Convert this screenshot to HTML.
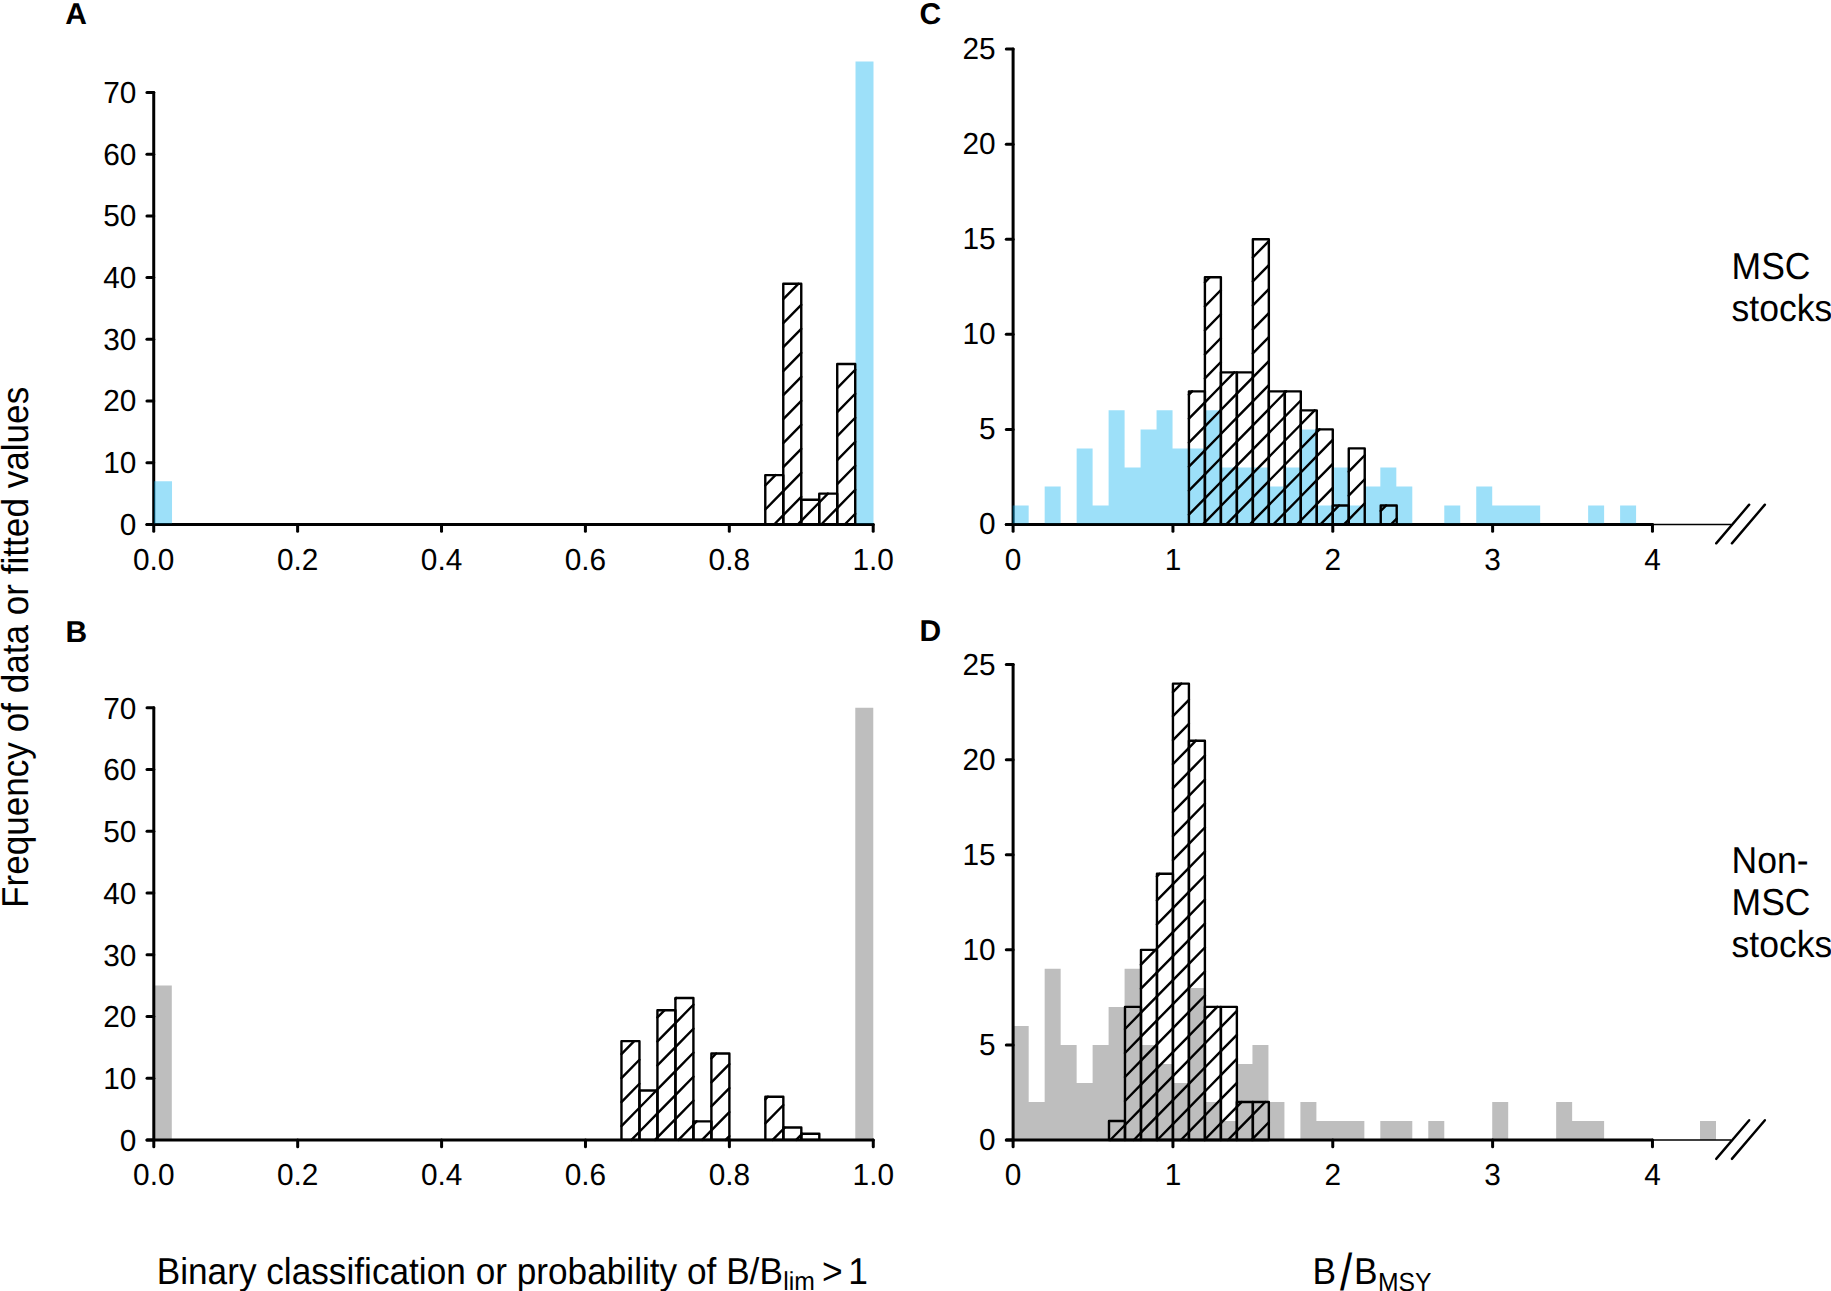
<!DOCTYPE html>
<html lang="en"><head><meta charset="utf-8"><title>Frequency of data or fitted values</title>
<style>html,body{margin:0;padding:0;background:#fff}svg{display:block}text{font-family:'Liberation Sans', Arial, Helvetica, sans-serif;fill:#000}</style>
</head><body>
<svg width="1831" height="1291" viewBox="0 0 1831 1291" text-rendering="geometricPrecision">
<rect width="1831" height="1291" fill="#fff"/>
<line x1="153.73" y1="92.46" x2="153.73" y2="524.5" stroke="#000" stroke-width="3" stroke-linecap="round"/>
<line x1="146.93" y1="524.5" x2="153.73" y2="524.5" stroke="#000" stroke-width="3" stroke-linecap="round"/>
<line x1="146.93" y1="462.78" x2="153.73" y2="462.78" stroke="#000" stroke-width="3" stroke-linecap="round"/>
<line x1="146.93" y1="401.06" x2="153.73" y2="401.06" stroke="#000" stroke-width="3" stroke-linecap="round"/>
<line x1="146.93" y1="339.34" x2="153.73" y2="339.34" stroke="#000" stroke-width="3" stroke-linecap="round"/>
<line x1="146.93" y1="277.62" x2="153.73" y2="277.62" stroke="#000" stroke-width="3" stroke-linecap="round"/>
<line x1="146.93" y1="215.9" x2="153.73" y2="215.9" stroke="#000" stroke-width="3" stroke-linecap="round"/>
<line x1="146.93" y1="154.18" x2="153.73" y2="154.18" stroke="#000" stroke-width="3" stroke-linecap="round"/>
<line x1="146.93" y1="92.46" x2="153.73" y2="92.46" stroke="#000" stroke-width="3" stroke-linecap="round"/>
<line x1="146.93" y1="524.5" x2="873.2" y2="524.5" stroke="#000" stroke-width="3" stroke-linecap="round"/>
<line x1="153.73" y1="524.5" x2="153.73" y2="531.3" stroke="#000" stroke-width="3" stroke-linecap="round"/>
<line x1="297.62" y1="524.5" x2="297.62" y2="531.3" stroke="#000" stroke-width="3" stroke-linecap="round"/>
<line x1="441.52" y1="524.5" x2="441.52" y2="531.3" stroke="#000" stroke-width="3" stroke-linecap="round"/>
<line x1="585.41" y1="524.5" x2="585.41" y2="531.3" stroke="#000" stroke-width="3" stroke-linecap="round"/>
<line x1="729.31" y1="524.5" x2="729.31" y2="531.3" stroke="#000" stroke-width="3" stroke-linecap="round"/>
<line x1="873.2" y1="524.5" x2="873.2" y2="531.3" stroke="#000" stroke-width="3" stroke-linecap="round"/>
<path d="M154.03 523.4V481.3H172.02V523.4ZM855.51 523.4V61.6H873.5V523.4Z" fill="#00aeef" fill-opacity="0.385"/>
<path d="M765.28 485.51L775.47 475.12M765.28 509.51L783.27 491.17M774.12 524.5L783.27 515.17" fill="none" stroke="#000" stroke-width="2.4" stroke-linecap="round"/>
<rect x="765.28" y="475.12" width="17.99" height="49.38" fill="none" stroke="#000" stroke-width="2.4" stroke-linejoin="round"/>
<path d="M783.27 299.17L798.34 283.79M783.27 323.17L801.25 304.82M783.27 347.17L801.25 328.82M783.27 371.17L801.25 352.82M783.27 395.17L801.25 376.82M783.27 419.17L801.25 400.82M783.27 443.17L801.25 424.82M783.27 467.17L801.25 448.82M783.27 491.17L801.25 472.82M783.27 515.17L801.25 496.82M797.65 524.5L801.25 520.82" fill="none" stroke="#000" stroke-width="2.4" stroke-linecap="round"/>
<rect x="783.27" y="283.79" width="17.99" height="240.71" fill="none" stroke="#000" stroke-width="2.4" stroke-linejoin="round"/>
<path d="M801.25 520.82L819.24 502.48" fill="none" stroke="#000" stroke-width="2.4" stroke-linecap="round"/>
<rect x="801.25" y="499.81" width="17.99" height="24.69" fill="none" stroke="#000" stroke-width="2.4" stroke-linejoin="round"/>
<path d="M819.24 502.48L827.9 493.64M821.18 524.5L837.23 508.13" fill="none" stroke="#000" stroke-width="2.4" stroke-linecap="round"/>
<rect x="819.24" y="493.64" width="17.99" height="30.86" fill="none" stroke="#000" stroke-width="2.4" stroke-linejoin="round"/>
<path d="M837.23 388.13L855.21 369.78M837.23 412.13L855.21 393.78M837.23 436.13L855.21 417.78M837.23 460.13L855.21 441.78M837.23 484.13L855.21 465.78M837.23 508.13L855.21 489.78M844.71 524.5L855.21 513.78" fill="none" stroke="#000" stroke-width="2.4" stroke-linecap="round"/>
<rect x="837.23" y="364.03" width="17.99" height="160.47" fill="none" stroke="#000" stroke-width="2.4" stroke-linejoin="round"/>
<text transform="translate(136.3 534.85) scale(0.9800 1)" font-size="30.4" text-anchor="end">0</text>
<text transform="translate(136.3 473.13) scale(0.9800 1)" font-size="30.4" text-anchor="end">10</text>
<text transform="translate(136.3 411.41) scale(0.9800 1)" font-size="30.4" text-anchor="end">20</text>
<text transform="translate(136.3 349.69) scale(0.9800 1)" font-size="30.4" text-anchor="end">30</text>
<text transform="translate(136.3 287.97) scale(0.9800 1)" font-size="30.4" text-anchor="end">40</text>
<text transform="translate(136.3 226.25) scale(0.9800 1)" font-size="30.4" text-anchor="end">50</text>
<text transform="translate(136.3 164.53) scale(0.9800 1)" font-size="30.4" text-anchor="end">60</text>
<text transform="translate(136.3 102.81) scale(0.9800 1)" font-size="30.4" text-anchor="end">70</text>
<text transform="translate(153.73 569.9) scale(0.9800 1)" font-size="30.4" text-anchor="middle">0.0</text>
<text transform="translate(297.62 569.9) scale(0.9800 1)" font-size="30.4" text-anchor="middle">0.2</text>
<text transform="translate(441.52 569.9) scale(0.9800 1)" font-size="30.4" text-anchor="middle">0.4</text>
<text transform="translate(585.41 569.9) scale(0.9800 1)" font-size="30.4" text-anchor="middle">0.6</text>
<text transform="translate(729.31 569.9) scale(0.9800 1)" font-size="30.4" text-anchor="middle">0.8</text>
<text transform="translate(873.2 569.9) scale(0.9800 1)" font-size="30.4" text-anchor="middle">1.0</text>
<text x="65.2" y="24.1" font-size="30" font-weight="bold">A</text>
<path d="M153.8 1139.9V985.6H171.79V1139.9ZM855.28 1139.9V707.86H873.27V1139.9Z" fill="#bebebe"/>
<line x1="153.8" y1="707.86" x2="153.8" y2="1139.9" stroke="#000" stroke-width="3" stroke-linecap="round"/>
<line x1="147" y1="1139.9" x2="153.8" y2="1139.9" stroke="#000" stroke-width="3" stroke-linecap="round"/>
<line x1="147" y1="1078.18" x2="153.8" y2="1078.18" stroke="#000" stroke-width="3" stroke-linecap="round"/>
<line x1="147" y1="1016.46" x2="153.8" y2="1016.46" stroke="#000" stroke-width="3" stroke-linecap="round"/>
<line x1="147" y1="954.74" x2="153.8" y2="954.74" stroke="#000" stroke-width="3" stroke-linecap="round"/>
<line x1="147" y1="893.02" x2="153.8" y2="893.02" stroke="#000" stroke-width="3" stroke-linecap="round"/>
<line x1="147" y1="831.3" x2="153.8" y2="831.3" stroke="#000" stroke-width="3" stroke-linecap="round"/>
<line x1="147" y1="769.58" x2="153.8" y2="769.58" stroke="#000" stroke-width="3" stroke-linecap="round"/>
<line x1="147" y1="707.86" x2="153.8" y2="707.86" stroke="#000" stroke-width="3" stroke-linecap="round"/>
<line x1="147" y1="1139.9" x2="873.27" y2="1139.9" stroke="#000" stroke-width="3" stroke-linecap="round"/>
<line x1="153.8" y1="1139.9" x2="153.8" y2="1146.7" stroke="#000" stroke-width="3" stroke-linecap="round"/>
<line x1="297.69" y1="1139.9" x2="297.69" y2="1146.7" stroke="#000" stroke-width="3" stroke-linecap="round"/>
<line x1="441.59" y1="1139.9" x2="441.59" y2="1146.7" stroke="#000" stroke-width="3" stroke-linecap="round"/>
<line x1="585.48" y1="1139.9" x2="585.48" y2="1146.7" stroke="#000" stroke-width="3" stroke-linecap="round"/>
<line x1="729.38" y1="1139.9" x2="729.38" y2="1146.7" stroke="#000" stroke-width="3" stroke-linecap="round"/>
<line x1="873.27" y1="1139.9" x2="873.27" y2="1146.7" stroke="#000" stroke-width="3" stroke-linecap="round"/>
<path d="M621.46 1054.12L634.17 1041.15M621.46 1078.12L639.44 1059.77M621.46 1102.12L639.44 1083.77M621.46 1126.12L639.44 1107.77M631.47 1139.9L639.44 1131.77" fill="none" stroke="#000" stroke-width="2.4" stroke-linecap="round"/>
<rect x="621.46" y="1041.15" width="17.99" height="98.75" fill="none" stroke="#000" stroke-width="2.4" stroke-linejoin="round"/>
<path d="M639.44 1107.77L656.35 1090.52M639.44 1131.77L657.43 1113.42M655 1139.9L657.43 1137.42" fill="none" stroke="#000" stroke-width="2.4" stroke-linecap="round"/>
<rect x="639.44" y="1090.52" width="17.99" height="49.38" fill="none" stroke="#000" stroke-width="2.4" stroke-linejoin="round"/>
<path d="M657.43 1017.42L664.42 1010.29M657.43 1041.42L675.42 1023.08M657.43 1065.42L675.42 1047.08M657.43 1089.42L675.42 1071.08M657.43 1113.42L675.42 1095.08M657.43 1137.42L675.42 1119.08" fill="none" stroke="#000" stroke-width="2.4" stroke-linecap="round"/>
<rect x="657.43" y="1010.29" width="17.99" height="129.61" fill="none" stroke="#000" stroke-width="2.4" stroke-linejoin="round"/>
<path d="M675.42 999.08L676.53 997.94M675.42 1023.08L693.4 1004.73M675.42 1047.08L693.4 1028.73M675.42 1071.08L693.4 1052.73M675.42 1095.08L693.4 1076.73M675.42 1119.08L693.4 1100.73M678.53 1139.9L693.4 1124.73" fill="none" stroke="#000" stroke-width="2.4" stroke-linecap="round"/>
<rect x="675.42" y="997.94" width="17.99" height="141.96" fill="none" stroke="#000" stroke-width="2.4" stroke-linejoin="round"/>
<path d="M693.4 1124.73L696.68 1121.38M702.06 1139.9L711.39 1130.38" fill="none" stroke="#000" stroke-width="2.4" stroke-linecap="round"/>
<rect x="693.4" y="1121.38" width="17.99" height="18.52" fill="none" stroke="#000" stroke-width="2.4" stroke-linejoin="round"/>
<path d="M711.39 1058.38L716.18 1053.49M711.39 1082.38L729.38 1064.04M711.39 1106.38L729.38 1088.04M711.39 1130.38L729.38 1112.04M725.59 1139.9L729.38 1136.04" fill="none" stroke="#000" stroke-width="2.4" stroke-linecap="round"/>
<rect x="711.39" y="1053.49" width="17.99" height="86.41" fill="none" stroke="#000" stroke-width="2.4" stroke-linejoin="round"/>
<path d="M765.35 1099.34L767.95 1096.7M765.35 1123.34L783.34 1105M772.65 1139.9L783.34 1129" fill="none" stroke="#000" stroke-width="2.4" stroke-linecap="round"/>
<rect x="765.35" y="1096.7" width="17.99" height="43.2" fill="none" stroke="#000" stroke-width="2.4" stroke-linejoin="round"/>
<path d="M783.34 1129L784.75 1127.56M796.18 1139.9L801.32 1134.65" fill="none" stroke="#000" stroke-width="2.4" stroke-linecap="round"/>
<rect x="783.34" y="1127.56" width="17.99" height="12.34" fill="none" stroke="#000" stroke-width="2.4" stroke-linejoin="round"/>
<path d="M801.32 1134.65L802.23 1133.73" fill="none" stroke="#000" stroke-width="2.4" stroke-linecap="round"/>
<rect x="801.32" y="1133.73" width="17.99" height="6.17" fill="none" stroke="#000" stroke-width="2.4" stroke-linejoin="round"/>
<text transform="translate(136.3 1150.8) scale(0.9800 1)" font-size="30.4" text-anchor="end">0</text>
<text transform="translate(136.3 1089.08) scale(0.9800 1)" font-size="30.4" text-anchor="end">10</text>
<text transform="translate(136.3 1027.36) scale(0.9800 1)" font-size="30.4" text-anchor="end">20</text>
<text transform="translate(136.3 965.64) scale(0.9800 1)" font-size="30.4" text-anchor="end">30</text>
<text transform="translate(136.3 903.92) scale(0.9800 1)" font-size="30.4" text-anchor="end">40</text>
<text transform="translate(136.3 842.2) scale(0.9800 1)" font-size="30.4" text-anchor="end">50</text>
<text transform="translate(136.3 780.48) scale(0.9800 1)" font-size="30.4" text-anchor="end">60</text>
<text transform="translate(136.3 718.76) scale(0.9800 1)" font-size="30.4" text-anchor="end">70</text>
<text transform="translate(153.8 1185.3) scale(0.9800 1)" font-size="30.4" text-anchor="middle">0.0</text>
<text transform="translate(297.69 1185.3) scale(0.9800 1)" font-size="30.4" text-anchor="middle">0.2</text>
<text transform="translate(441.59 1185.3) scale(0.9800 1)" font-size="30.4" text-anchor="middle">0.4</text>
<text transform="translate(585.48 1185.3) scale(0.9800 1)" font-size="30.4" text-anchor="middle">0.6</text>
<text transform="translate(729.38 1185.3) scale(0.9800 1)" font-size="30.4" text-anchor="middle">0.8</text>
<text transform="translate(873.27 1185.3) scale(0.9800 1)" font-size="30.4" text-anchor="middle">1.0</text>
<text x="65.6" y="641.6" font-size="30" font-weight="bold">B</text>
<line x1="1013.1" y1="49.08" x2="1013.1" y2="524.45" stroke="#000" stroke-width="3" stroke-linecap="round"/>
<line x1="1006.3" y1="524.45" x2="1013.1" y2="524.45" stroke="#000" stroke-width="3" stroke-linecap="round"/>
<line x1="1006.3" y1="429.38" x2="1013.1" y2="429.38" stroke="#000" stroke-width="3" stroke-linecap="round"/>
<line x1="1006.3" y1="334.3" x2="1013.1" y2="334.3" stroke="#000" stroke-width="3" stroke-linecap="round"/>
<line x1="1006.3" y1="239.23" x2="1013.1" y2="239.23" stroke="#000" stroke-width="3" stroke-linecap="round"/>
<line x1="1006.3" y1="144.15" x2="1013.1" y2="144.15" stroke="#000" stroke-width="3" stroke-linecap="round"/>
<line x1="1006.3" y1="49.08" x2="1013.1" y2="49.08" stroke="#000" stroke-width="3" stroke-linecap="round"/>
<line x1="1006.3" y1="524.45" x2="1652.46" y2="524.45" stroke="#000" stroke-width="3" stroke-linecap="round"/>
<line x1="1013.1" y1="524.45" x2="1013.1" y2="531.25" stroke="#000" stroke-width="3" stroke-linecap="round"/>
<line x1="1172.94" y1="524.45" x2="1172.94" y2="531.25" stroke="#000" stroke-width="3" stroke-linecap="round"/>
<line x1="1332.78" y1="524.45" x2="1332.78" y2="531.25" stroke="#000" stroke-width="3" stroke-linecap="round"/>
<line x1="1492.62" y1="524.45" x2="1492.62" y2="531.25" stroke="#000" stroke-width="3" stroke-linecap="round"/>
<line x1="1652.46" y1="524.45" x2="1652.46" y2="531.25" stroke="#000" stroke-width="3" stroke-linecap="round"/>
<line x1="1652.46" y1="524.45" x2="1731" y2="524.45" stroke="#000" stroke-width="1.5" stroke-linecap="butt"/>
<line x1="1716.2" y1="543.35" x2="1749.2" y2="504.65" stroke="#000" stroke-width="2.4" stroke-linecap="round"/>
<line x1="1731.9" y1="543.35" x2="1764.9" y2="504.65" stroke="#000" stroke-width="2.4" stroke-linecap="round"/>
<path d="M1012.7 523.35V505.44H1028.68V523.35ZM1044.67 523.35V486.42H1060.65V523.35ZM1076.64 523.35V448.39H1092.62V505.44H1108.6V410.36H1124.59V467.41H1140.57V429.38H1156.56V410.36H1172.54V448.39H1188.52V448.39H1204.51V410.36H1220.49V467.41H1236.48V467.41H1252.46V467.41H1268.44V486.42H1284.43V467.41H1300.41V429.38H1316.4V505.44H1332.38V467.41H1348.36V505.44H1364.35V486.42H1380.33V467.41H1396.32V486.42H1412.3V523.35ZM1444.27 523.35V505.44H1460.25V523.35ZM1476.24 523.35V486.42H1492.22V505.44H1508.2V505.44H1524.19V505.44H1540.17V523.35ZM1588.12 523.35V505.44H1604.11V523.35ZM1620.09 523.35V505.44H1636.08V523.35Z" fill="#00aeef" fill-opacity="0.385"/>
<path d="M1188.92 394.6L1192.11 391.35M1188.92 418.6L1204.91 402.29M1188.92 442.6L1204.91 426.29M1188.92 466.6L1204.91 450.29M1188.92 490.6L1204.91 474.29M1188.92 514.6L1204.91 498.29M1202.79 524.45L1204.91 522.29" fill="none" stroke="#000" stroke-width="2.4" stroke-linecap="round"/>
<rect x="1188.92" y="391.35" width="15.98" height="133.11" fill="none" stroke="#000" stroke-width="2.4" stroke-linejoin="round"/>
<path d="M1204.91 282.29L1209.85 277.26M1204.91 306.29L1220.89 289.99M1204.91 330.29L1220.89 313.99M1204.91 354.29L1220.89 337.99M1204.91 378.29L1220.89 361.99M1204.91 402.29L1220.89 385.99M1204.91 426.29L1220.89 409.99M1204.91 450.29L1220.89 433.99M1204.91 474.29L1220.89 457.99M1204.91 498.29L1220.89 481.99M1204.91 522.29L1220.89 505.99" fill="none" stroke="#000" stroke-width="2.4" stroke-linecap="round"/>
<rect x="1204.91" y="277.26" width="15.98" height="247.19" fill="none" stroke="#000" stroke-width="2.4" stroke-linejoin="round"/>
<path d="M1220.89 385.99L1234.28 372.33M1220.89 409.99L1236.88 393.69M1220.89 433.99L1236.88 417.69M1220.89 457.99L1236.88 441.69M1220.89 481.99L1236.88 465.69M1220.89 505.99L1236.88 489.69M1226.32 524.45L1236.88 513.69" fill="none" stroke="#000" stroke-width="2.4" stroke-linecap="round"/>
<rect x="1220.89" y="372.33" width="15.98" height="152.12" fill="none" stroke="#000" stroke-width="2.4" stroke-linejoin="round"/>
<path d="M1236.88 393.69L1252.86 377.38M1236.88 417.69L1252.86 401.38M1236.88 441.69L1252.86 425.38M1236.88 465.69L1252.86 449.38M1236.88 489.69L1252.86 473.38M1236.88 513.69L1252.86 497.38M1249.85 524.45L1252.86 521.38" fill="none" stroke="#000" stroke-width="2.4" stroke-linecap="round"/>
<rect x="1236.88" y="372.33" width="15.98" height="152.12" fill="none" stroke="#000" stroke-width="2.4" stroke-linejoin="round"/>
<path d="M1252.86 257.38L1268.84 241.08M1252.86 281.38L1268.84 265.08M1252.86 305.38L1268.84 289.08M1252.86 329.38L1268.84 313.08M1252.86 353.38L1268.84 337.08M1252.86 377.38L1268.84 361.08M1252.86 401.38L1268.84 385.08M1252.86 425.38L1268.84 409.08M1252.86 449.38L1268.84 433.08M1252.86 473.38L1268.84 457.08M1252.86 497.38L1268.84 481.08M1252.86 521.38L1268.84 505.08" fill="none" stroke="#000" stroke-width="2.4" stroke-linecap="round"/>
<rect x="1252.86" y="239.23" width="15.98" height="285.23" fill="none" stroke="#000" stroke-width="2.4" stroke-linejoin="round"/>
<path d="M1268.84 409.08L1284.83 392.78M1268.84 433.08L1284.83 416.78M1268.84 457.08L1284.83 440.78M1268.84 481.08L1284.83 464.78M1268.84 505.08L1284.83 488.78M1273.38 524.45L1284.83 512.78" fill="none" stroke="#000" stroke-width="2.4" stroke-linecap="round"/>
<rect x="1268.84" y="391.35" width="15.98" height="133.11" fill="none" stroke="#000" stroke-width="2.4" stroke-linejoin="round"/>
<path d="M1284.83 392.78L1286.23 391.34M1284.83 416.78L1300.81 400.47M1284.83 440.78L1300.81 424.47M1284.83 464.78L1300.81 448.47M1284.83 488.78L1300.81 472.47M1284.83 512.78L1300.81 496.47M1296.91 524.45L1300.81 520.47" fill="none" stroke="#000" stroke-width="2.4" stroke-linecap="round"/>
<rect x="1284.83" y="391.35" width="15.98" height="133.11" fill="none" stroke="#000" stroke-width="2.4" stroke-linejoin="round"/>
<path d="M1300.81 424.47L1314.65 410.36M1300.81 448.47L1316.8 432.17M1300.81 472.47L1316.8 456.17M1300.81 496.47L1316.8 480.17M1300.81 520.47L1316.8 504.17" fill="none" stroke="#000" stroke-width="2.4" stroke-linecap="round"/>
<rect x="1300.81" y="410.36" width="15.98" height="114.09" fill="none" stroke="#000" stroke-width="2.4" stroke-linejoin="round"/>
<path d="M1316.8 432.17L1319.53 429.38M1316.8 456.17L1332.78 439.86M1316.8 480.17L1332.78 463.86M1316.8 504.17L1332.78 487.86M1320.44 524.45L1332.78 511.86" fill="none" stroke="#000" stroke-width="2.4" stroke-linecap="round"/>
<rect x="1316.8" y="429.38" width="15.98" height="95.07" fill="none" stroke="#000" stroke-width="2.4" stroke-linejoin="round"/>
<path d="M1332.78 511.86L1339.08 505.44M1343.97 524.45L1348.76 519.56" fill="none" stroke="#000" stroke-width="2.4" stroke-linecap="round"/>
<rect x="1332.78" y="505.44" width="15.98" height="19.01" fill="none" stroke="#000" stroke-width="2.4" stroke-linejoin="round"/>
<path d="M1348.76 471.56L1364.75 455.26M1348.76 495.56L1364.75 479.26M1348.76 519.56L1364.75 503.26" fill="none" stroke="#000" stroke-width="2.4" stroke-linecap="round"/>
<rect x="1348.76" y="448.39" width="15.98" height="76.06" fill="none" stroke="#000" stroke-width="2.4" stroke-linejoin="round"/>
<path d="M1380.73 510.95L1386.14 505.44M1391.03 524.45L1396.72 518.65" fill="none" stroke="#000" stroke-width="2.4" stroke-linecap="round"/>
<rect x="1380.73" y="505.44" width="15.98" height="19.01" fill="none" stroke="#000" stroke-width="2.4" stroke-linejoin="round"/>
<text transform="translate(995.6 534.35) scale(0.9800 1)" font-size="30.4" text-anchor="end">0</text>
<text transform="translate(995.6 439.28) scale(0.9800 1)" font-size="30.4" text-anchor="end">5</text>
<text transform="translate(995.6 344.2) scale(0.9800 1)" font-size="30.4" text-anchor="end">10</text>
<text transform="translate(995.6 249.13) scale(0.9800 1)" font-size="30.4" text-anchor="end">15</text>
<text transform="translate(995.6 154.05) scale(0.9800 1)" font-size="30.4" text-anchor="end">20</text>
<text transform="translate(995.6 58.98) scale(0.9800 1)" font-size="30.4" text-anchor="end">25</text>
<text transform="translate(1013.1 569.85) scale(0.9800 1)" font-size="30.4" text-anchor="middle">0</text>
<text transform="translate(1172.94 569.85) scale(0.9800 1)" font-size="30.4" text-anchor="middle">1</text>
<text transform="translate(1332.78 569.85) scale(0.9800 1)" font-size="30.4" text-anchor="middle">2</text>
<text transform="translate(1492.62 569.85) scale(0.9800 1)" font-size="30.4" text-anchor="middle">3</text>
<text transform="translate(1652.46 569.85) scale(0.9800 1)" font-size="30.4" text-anchor="middle">4</text>
<text x="919.6" y="24.4" font-size="30" font-weight="bold">C</text>
<path d="M1012.7 1140V1025.91H1028.68V1101.97H1044.67V968.87H1060.65V1044.92H1076.64V1082.95H1092.62V1044.92H1108.6V1006.89H1124.59V968.87H1140.57V1044.92H1156.56V1063.94H1172.54V1082.95H1188.52V987.88H1204.51V1101.97H1220.49V1120.98H1236.48V1063.94H1252.46V1044.92H1268.44V1101.97H1284.43V1140ZM1300.41 1140V1101.97H1316.4V1120.98H1332.38V1120.98H1348.36V1120.98H1364.35V1140ZM1380.33 1140V1120.98H1396.32V1120.98H1412.3V1140ZM1428.28 1140V1120.98H1444.27V1140ZM1492.22 1140V1101.97H1508.2V1140ZM1556.16 1140V1101.97H1572.14V1120.98H1588.12V1120.98H1604.11V1140ZM1700.01 1140V1120.98H1716V1140Z" fill="#bebebe"/>
<line x1="1013.1" y1="664.62" x2="1013.1" y2="1140" stroke="#000" stroke-width="3" stroke-linecap="round"/>
<line x1="1006.3" y1="1140" x2="1013.1" y2="1140" stroke="#000" stroke-width="3" stroke-linecap="round"/>
<line x1="1006.3" y1="1044.92" x2="1013.1" y2="1044.92" stroke="#000" stroke-width="3" stroke-linecap="round"/>
<line x1="1006.3" y1="949.85" x2="1013.1" y2="949.85" stroke="#000" stroke-width="3" stroke-linecap="round"/>
<line x1="1006.3" y1="854.77" x2="1013.1" y2="854.77" stroke="#000" stroke-width="3" stroke-linecap="round"/>
<line x1="1006.3" y1="759.7" x2="1013.1" y2="759.7" stroke="#000" stroke-width="3" stroke-linecap="round"/>
<line x1="1006.3" y1="664.62" x2="1013.1" y2="664.62" stroke="#000" stroke-width="3" stroke-linecap="round"/>
<line x1="1006.3" y1="1140" x2="1652.46" y2="1140" stroke="#000" stroke-width="3" stroke-linecap="round"/>
<line x1="1013.1" y1="1140" x2="1013.1" y2="1146.8" stroke="#000" stroke-width="3" stroke-linecap="round"/>
<line x1="1172.94" y1="1140" x2="1172.94" y2="1146.8" stroke="#000" stroke-width="3" stroke-linecap="round"/>
<line x1="1332.78" y1="1140" x2="1332.78" y2="1146.8" stroke="#000" stroke-width="3" stroke-linecap="round"/>
<line x1="1492.62" y1="1140" x2="1492.62" y2="1146.8" stroke="#000" stroke-width="3" stroke-linecap="round"/>
<line x1="1652.46" y1="1140" x2="1652.46" y2="1146.8" stroke="#000" stroke-width="3" stroke-linecap="round"/>
<line x1="1652.46" y1="1140" x2="1731" y2="1140" stroke="#000" stroke-width="1.5" stroke-linecap="butt"/>
<line x1="1716.2" y1="1158.9" x2="1749.2" y2="1120.2" stroke="#000" stroke-width="2.4" stroke-linecap="round"/>
<line x1="1731.9" y1="1158.9" x2="1764.9" y2="1120.2" stroke="#000" stroke-width="2.4" stroke-linecap="round"/>
<path d="M1110.29 1140L1124.99 1125.01" fill="none" stroke="#000" stroke-width="2.4" stroke-linecap="round"/>
<rect x="1109" y="1120.98" width="15.98" height="19.02" fill="none" stroke="#000" stroke-width="2.4" stroke-linejoin="round"/>
<path d="M1124.99 1029.01L1140.97 1012.71M1124.99 1053.01L1140.97 1036.71M1124.99 1077.01L1140.97 1060.71M1124.99 1101.01L1140.97 1084.71M1124.99 1125.01L1140.97 1108.71M1133.82 1140L1140.97 1132.71" fill="none" stroke="#000" stroke-width="2.4" stroke-linecap="round"/>
<rect x="1124.99" y="1006.89" width="15.98" height="133.11" fill="none" stroke="#000" stroke-width="2.4" stroke-linejoin="round"/>
<path d="M1140.97 964.71L1155.54 949.85M1140.97 988.71L1156.96 972.4M1140.97 1012.71L1156.96 996.4M1140.97 1036.71L1156.96 1020.4M1140.97 1060.71L1156.96 1044.4M1140.97 1084.71L1156.96 1068.4M1140.97 1108.71L1156.96 1092.4M1140.97 1132.71L1156.96 1116.4" fill="none" stroke="#000" stroke-width="2.4" stroke-linecap="round"/>
<rect x="1140.97" y="949.85" width="15.98" height="190.15" fill="none" stroke="#000" stroke-width="2.4" stroke-linejoin="round"/>
<path d="M1156.96 876.4L1159.52 873.79M1156.96 900.4L1172.94 884.1M1156.96 924.4L1172.94 908.1M1156.96 948.4L1172.94 932.1M1156.96 972.4L1172.94 956.1M1156.96 996.4L1172.94 980.1M1156.96 1020.4L1172.94 1004.1M1156.96 1044.4L1172.94 1028.1M1156.96 1068.4L1172.94 1052.1M1156.96 1092.4L1172.94 1076.1M1156.96 1116.4L1172.94 1100.1M1157.35 1140L1172.94 1124.1" fill="none" stroke="#000" stroke-width="2.4" stroke-linecap="round"/>
<rect x="1156.96" y="873.79" width="15.98" height="266.21" fill="none" stroke="#000" stroke-width="2.4" stroke-linejoin="round"/>
<path d="M1172.94 692.1L1181.24 683.64M1172.94 716.1L1188.92 699.8M1172.94 740.1L1188.92 723.8M1172.94 764.1L1188.92 747.8M1172.94 788.1L1188.92 771.8M1172.94 812.1L1188.92 795.8M1172.94 836.1L1188.92 819.8M1172.94 860.1L1188.92 843.8M1172.94 884.1L1188.92 867.8M1172.94 908.1L1188.92 891.8M1172.94 932.1L1188.92 915.8M1172.94 956.1L1188.92 939.8M1172.94 980.1L1188.92 963.8M1172.94 1004.1L1188.92 987.8M1172.94 1028.1L1188.92 1011.8M1172.94 1052.1L1188.92 1035.8M1172.94 1076.1L1188.92 1059.8M1172.94 1100.1L1188.92 1083.8M1172.94 1124.1L1188.92 1107.8M1180.88 1140L1188.92 1131.8" fill="none" stroke="#000" stroke-width="2.4" stroke-linecap="round"/>
<rect x="1172.94" y="683.64" width="15.98" height="456.36" fill="none" stroke="#000" stroke-width="2.4" stroke-linejoin="round"/>
<path d="M1188.92 747.8L1195.9 740.68M1188.92 771.8L1204.91 755.49M1188.92 795.8L1204.91 779.49M1188.92 819.8L1204.91 803.49M1188.92 843.8L1204.91 827.49M1188.92 867.8L1204.91 851.49M1188.92 891.8L1204.91 875.49M1188.92 915.8L1204.91 899.49M1188.92 939.8L1204.91 923.49M1188.92 963.8L1204.91 947.49M1188.92 987.8L1204.91 971.49M1188.92 1011.8L1204.91 995.49M1188.92 1035.8L1204.91 1019.49M1188.92 1059.8L1204.91 1043.49M1188.92 1083.8L1204.91 1067.49M1188.92 1107.8L1204.91 1091.49M1188.92 1131.8L1204.91 1115.49M1204.41 1140L1204.91 1139.49" fill="none" stroke="#000" stroke-width="2.4" stroke-linecap="round"/>
<rect x="1188.92" y="740.68" width="15.98" height="399.32" fill="none" stroke="#000" stroke-width="2.4" stroke-linejoin="round"/>
<path d="M1204.91 1019.49L1217.26 1006.89M1204.91 1043.49L1220.89 1027.19M1204.91 1067.49L1220.89 1051.19M1204.91 1091.49L1220.89 1075.19M1204.91 1115.49L1220.89 1099.19M1204.91 1139.49L1220.89 1123.19" fill="none" stroke="#000" stroke-width="2.4" stroke-linecap="round"/>
<rect x="1204.91" y="1006.89" width="15.98" height="133.11" fill="none" stroke="#000" stroke-width="2.4" stroke-linejoin="round"/>
<path d="M1220.89 1027.19L1236.88 1010.89M1220.89 1051.19L1236.88 1034.89M1220.89 1075.19L1236.88 1058.89M1220.89 1099.19L1236.88 1082.89M1220.89 1123.19L1236.88 1106.89M1227.94 1140L1236.88 1130.89" fill="none" stroke="#000" stroke-width="2.4" stroke-linecap="round"/>
<rect x="1220.89" y="1006.89" width="15.98" height="133.11" fill="none" stroke="#000" stroke-width="2.4" stroke-linejoin="round"/>
<path d="M1236.88 1106.89L1241.7 1101.97M1236.88 1130.89L1252.86 1114.58M1251.47 1140L1252.86 1138.58" fill="none" stroke="#000" stroke-width="2.4" stroke-linecap="round"/>
<rect x="1236.88" y="1101.97" width="15.98" height="38.03" fill="none" stroke="#000" stroke-width="2.4" stroke-linejoin="round"/>
<path d="M1252.86 1114.58L1265.23 1101.97M1252.86 1138.58L1268.84 1122.28" fill="none" stroke="#000" stroke-width="2.4" stroke-linecap="round"/>
<rect x="1252.86" y="1101.97" width="15.98" height="38.03" fill="none" stroke="#000" stroke-width="2.4" stroke-linejoin="round"/>
<text transform="translate(995.6 1150.1) scale(0.9800 1)" font-size="30.4" text-anchor="end">0</text>
<text transform="translate(995.6 1055.02) scale(0.9800 1)" font-size="30.4" text-anchor="end">5</text>
<text transform="translate(995.6 959.95) scale(0.9800 1)" font-size="30.4" text-anchor="end">10</text>
<text transform="translate(995.6 864.88) scale(0.9800 1)" font-size="30.4" text-anchor="end">15</text>
<text transform="translate(995.6 769.8) scale(0.9800 1)" font-size="30.4" text-anchor="end">20</text>
<text transform="translate(995.6 674.73) scale(0.9800 1)" font-size="30.4" text-anchor="end">25</text>
<text transform="translate(1013.1 1185.4) scale(0.9800 1)" font-size="30.4" text-anchor="middle">0</text>
<text transform="translate(1172.94 1185.4) scale(0.9800 1)" font-size="30.4" text-anchor="middle">1</text>
<text transform="translate(1332.78 1185.4) scale(0.9800 1)" font-size="30.4" text-anchor="middle">2</text>
<text transform="translate(1492.62 1185.4) scale(0.9800 1)" font-size="30.4" text-anchor="middle">3</text>
<text transform="translate(1652.46 1185.4) scale(0.9800 1)" font-size="30.4" text-anchor="middle">4</text>
<text x="919.6" y="641.4" font-size="30" font-weight="bold">D</text>
<text transform="translate(28.1 908) rotate(-90)" font-size="37.4" textLength="521.2" lengthAdjust="spacingAndGlyphs">Frequency of data or fitted values</text>
<text x="156.7" y="1283.6" font-size="37.4" textLength="626.2" lengthAdjust="spacingAndGlyphs">Binary classification or probability of B/B</text>
<text transform="translate(783.3 1290) scale(0.9500 1)" font-size="26">lim</text>
<text transform="translate(822 1283.6) scale(0.9450 1)" font-size="37.4">&gt;</text>
<text transform="translate(848.2 1283.6) scale(0.9450 1)" font-size="37.4">1</text>
<text transform="translate(1312.6 1283.5) scale(0.9450 1)" font-size="37.4">B</text>
<text transform="translate(1340 1290) scale(0.8500 1)" font-size="51.7">/</text>
<text transform="translate(1354.1 1283.5) scale(0.9450 1)" font-size="37.4">B</text>
<text transform="translate(1378 1290.5) scale(0.9430 1)" font-size="26.2">MSY</text>
<text transform="translate(1731.6 278.8) scale(0.9470 1)" font-size="37.5">MSC</text>
<text transform="translate(1731.6 320.5) scale(0.9470 1)" font-size="37.5">stocks</text>
<text transform="translate(1731.6 873) scale(0.9470 1)" font-size="37.5">Non-</text>
<text transform="translate(1731.6 914.7) scale(0.9470 1)" font-size="37.5">MSC</text>
<text transform="translate(1731.6 957) scale(0.9470 1)" font-size="37.5">stocks</text>
</svg></body></html>
